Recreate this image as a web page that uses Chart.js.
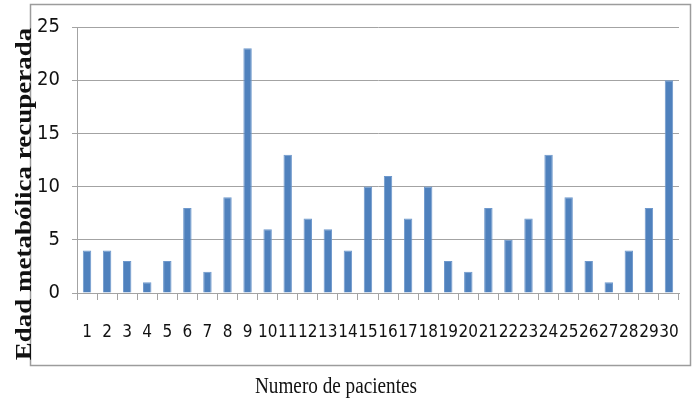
<!DOCTYPE html>
<html>
<head>
<meta charset="utf-8">
<script src="https://cdn.jsdelivr.net/npm/chart.js@4/dist/chart.umd.min.js"></script>
<style>
  html, body { margin: 0; padding: 0; background: #fff; }
  #wrap { position: relative; width: 696px; height: 401px; }
</style>
</head>
<body>
<div id="wrap"><canvas id="chart" width="696" height="401"></canvas></div>
<script>
const pacientes = ['1', '2', '3', '4', '5', '6', '7', '8', '9', '10',
  '11', '12', '13', '14', '15', '16', '17', '18', '19', '20',
  '21', '22', '23', '24', '25', '26', '27', '28', '29', '30'];
const edadRecuperada = [4, 4, 3, 1, 3, 8, 2, 9, 23, 6,
  13, 7, 6, 4, 10, 11, 7, 10, 3, 2,
  8, 5, 7, 13, 9, 3, 1, 4, 8, 20];
const yMax = 25;
const yStep = 5;
const yTitulo = 'Edad metabólica recuperada';
const xTitulo = 'Numero de pacientes';

const gris = '#a3a3a3';
const tickFont = "'DejaVu Sans Condensed', 'Liberation Sans Narrow', sans-serif";
const serif = "'Liberation Serif', 'DejaVu Serif', serif";

// outer frame like the excel chart box, and both axis titles
// (the picture is squeezed sideways, so the titles are drawn a bit narrow)
const frame = {
  id: 'frame',
  beforeDraw(chart) {
    const c = chart.ctx;
    c.save();
    c.strokeStyle = '#9c9c9c';
    c.lineWidth = 1.5;
    c.strokeRect(30.5, 4.5, 660, 361);
    c.restore();
  },
  afterDraw(chart) {
    const c = chart.ctx;
    c.save();
    c.fillStyle = '#111';
    c.textAlign = 'center';
    c.textBaseline = 'alphabetic';

    c.save();
    c.translate(31, 194);
    c.rotate(-Math.PI / 2);
    c.scale(1, 0.84);
    c.font = 'bold 27px ' + serif;
    c.fillText(yTitulo, 0, 0);
    c.restore();

    c.save();
    c.translate(336, 393);
    c.scale(0.8, 1);
    c.font = '24px ' + serif;
    c.fillText(xTitulo, 0, 0);
    c.restore();

    c.restore();
  }
};

const ctx = document.getElementById('chart').getContext('2d');
const mychart = new Chart(ctx, {
  type: 'bar',
  data: {
    labels: pacientes,
    datasets: [{
      label: yTitulo,
      data: edadRecuperada,
      backgroundColor: '#4f81bd',
      borderColor: '#6e98cc',
      borderWidth: 1,
      barPercentage: 0.42,
      categoryPercentage: 1
    }]
  },
  options: {
    responsive: false,
    animation: false,
    layout: { padding: { left: 9, right: 17, top: 27, bottom: 5 } },
    plugins: { legend: { display: false }, tooltip: { enabled: false } },
    scales: {
      x: {
        grid: { offset: true, drawOnChartArea: false, color: gris, tickLength: 7 },
        border: { color: gris },
        // big lineHeight pushes the labels down without widening the side padding
        ticks: { color: '#111', padding: 7, maxRotation: 0, autoSkip: false,
          font: { family: tickFont, size: 17, lineHeight: 3 } },
        afterFit(scale) { scale.height = 103; }
      },
      y: {
        min: 0,
        max: yMax,
        ticks: { stepSize: yStep, color: '#111', padding: 12,
          font: { family: tickFont, size: 20 } },
        grid: { color: gris, tickLength: 5 },
        border: { color: gris },
        afterFit(scale) { scale.width = 68; }
      }
    }
  },
  plugins: [frame]
});
</script>
</body>
</html>
